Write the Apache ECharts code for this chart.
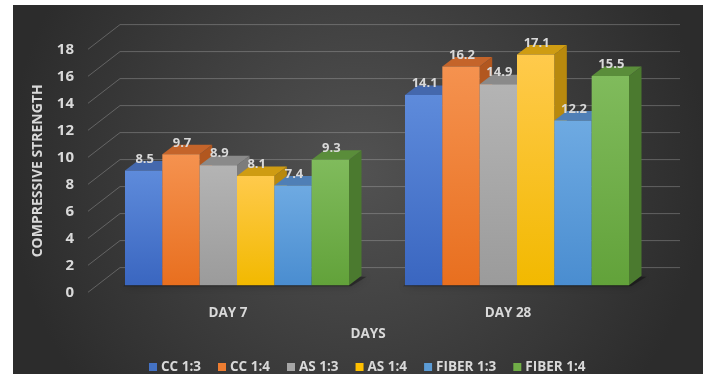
<!DOCTYPE html>
<html>
<head>
<meta charset="utf-8">
<script src="https://cdn.jsdelivr.net/npm/echarts@6/dist/echarts.min.js"></script>
<style>
  html, body { margin: 0; padding: 0; background: #ffffff; }
  #chart { width: 710px; height: 374px; }
</style>
</head>
<body>
<div id="chart"></div>
<script>
// Compressive strength by mix and curing age
const categories = ['DAY 7', 'DAY 28'];
const seriesNames = ['CC 1:3', 'CC 1:4', 'AS 1:3', 'AS 1:4', 'FIBER 1:3', 'FIBER 1:4'];
const cc13 = [8.5, 14.1];
const cc14 = [9.7, 16.2];
const as13 = [8.9, 14.9];
const as14 = [8.1, 17.1];
const fiber13 = [7.4, 12.2];
const fiber14 = [9.3, 15.5];
const yTicks = [0, 2, 4, 6, 8, 10, 12, 14, 16, 18];

const seriesValues = [cc13, cc14, as13, as14, fiber13, fiber14];

// face colours: front gradient (top, bottom), top face, right side face
const palette = [
  { hi: '#5e8bdb', lo: '#3a66c0', top: '#4468ad', side: '#33569b', legend: '#4472c4' },
  { hi: '#f5924f', lo: '#e86f1f', top: '#c4642a', side: '#b2571f', legend: '#ed7d31' },
  { hi: '#b4b4b4', lo: '#9b9b9b', top: '#8a8a8a', side: '#7c7c7c', legend: '#a5a5a5' },
  { hi: '#ffca4c', lo: '#f2b900', top: '#cf9c12', side: '#b8890e', legend: '#ffc000' },
  { hi: '#6eaae2', lo: '#4a8dd0', top: '#4f7fb6', side: '#42709f', legend: '#5b9bd5' },
  { hi: '#80bb5c', lo: '#62a23a', top: '#5a8d3a', side: '#4b7a2f', legend: '#70ad47' }
];

const TEXT = '#d9d9d9';
const FONT = '"Open Sans", sans-serif';
const CAT_GAP = 0.2;          // space between category groups
const WALL = [32, 24.7];      // back wall offset from the front axis plane
const FRONT = [9, 7];         // bar front faces sit a little into the depth
const DEPTH = [12.5, 9.5];    // bar depth (right / up)

function groupGeometry(api, cat) {
  const band = api.size([1, 0])[0];
  const groupW = band * (1 - CAT_GAP);
  const base = api.coord([cat, 0]);
  return { groupW, barW: groupW / seriesNames.length, base };
}

function barRenderer(idx) {
  const pal = palette[idx];
  return function (params, api) {
    const cat = api.value(0);
    const val = api.value(1);
    const g = groupGeometry(api, cat);
    const topPt = api.coord([cat, val]);
    const xL = g.base[0] - g.groupW / 2 + idx * g.barW + FRONT[0];
    const xR = xL + g.barW;
    const yB = g.base[1] - FRONT[1];
    const yT = topPt[1] - FRONT[1];
    const dx = DEPTH[0], dy = DEPTH[1];
    return {
      type: 'group',
      children: [
        {
          type: 'polygon',
          shape: { points: [[xR, yT], [xR + dx, yT - dy], [xR + dx, yB - dy], [xR, yB]] },
          style: { fill: pal.side }
        },
        {
          type: 'polygon',
          shape: { points: [[xL, yT], [xR, yT], [xR + dx, yT - dy], [xL + dx, yT - dy]] },
          style: { fill: pal.top }
        },
        {
          type: 'rect',
          shape: { x: xL, y: yT, width: g.barW, height: yB - yT },
          style: {
            fill: new echarts.graphic.LinearGradient(0, 0, 0, 1, [
              { offset: 0, color: pal.hi },
              { offset: 1, color: pal.lo }
            ])
          }
        },
        {
          type: 'text',
          style: {
            text: val.toFixed(1),
            x: (xL + xR) / 2 + 1,
            y: yT - 11.5,
            align: 'center',
            verticalAlign: 'middle',
            fill: TEXT,
            fontFamily: FONT,
            fontWeight: 'bold',
            fontSize: 13
          }
        }
      ]
    };
  };
}

const barSeries = seriesNames.map((name, i) => ({
  name: name,
  type: 'custom',
  coordinateSystem: 'cartesian2d',
  itemStyle: { color: palette[i].legend },
  encode: { x: 0, y: 1 },
  data: seriesValues[i].map((v, c) => [c, v]),
  renderItem: barRenderer(i),
  z: 5 + i
}));

// back wall grid lines with the diagonal leaders to the value axis
const wallSeries = {
  type: 'custom',
  silent: true,
  encode: { x: 0, y: 1 },
  data: yTicks.map(v => [0, v]),
  renderItem: function (params, api) {
    const cs = params.coordSys;
    const y = api.coord([0, api.value(1)])[1];
    const x0 = cs.x, x1 = cs.x + cs.width;
    return {
      type: 'polyline',
      shape: { points: [[x0, y], [x0 + WALL[0], y - WALL[1]], [x1 + WALL[0], y - WALL[1]]] },
      style: { stroke: 'rgba(200,200,200,0.32)', lineWidth: 1, fill: null }
    };
  },
  z: 1
};

// soft floor shadow under each group
const shadowSeries = {
  type: 'custom',
  silent: true,
  encode: { x: 0, y: 1 },
  data: categories.map((c, i) => [i, 0]),
  renderItem: function (params, api) {
    const g = groupGeometry(api, api.value(0));
    const xL = g.base[0] - g.groupW / 2 + FRONT[0] - 2;
    const xR = g.base[0] + g.groupW / 2 + FRONT[0] + 2;
    const yB = g.base[1] - FRONT[1] + 1;
    const dx = DEPTH[0] + 3, dy = DEPTH[1];
    return {
      type: 'polygon',
      shape: { points: [[xL, yB], [xR, yB], [xR + dx, yB - dy], [xL + dx, yB - dy]] },
      style: { fill: 'rgba(0,0,0,0.35)', shadowBlur: 8, shadowColor: 'rgba(0,0,0,0.7)' }
    };
  },
  z: 2
};

const chart = echarts.init(document.getElementById('chart'), null, { renderer: 'canvas' });

const labelFont = { color: TEXT, fontWeight: 'bold', fontSize: 13.5, fontFamily: FONT };

chart.setOption({
  backgroundColor: '#ffffff',
  animation: false,
  graphic: {
    elements: [{
      type: 'rect',
      z: -100,
      silent: true,
      shape: { x: 13, y: 5, width: 690, height: 369 },
      style: {
        fill: new echarts.graphic.RadialGradient(0.5, 0.45, 0.95, [
          { offset: 0, color: '#525252' },
          { offset: 1, color: '#2c2c2c' }
        ])
      }
    }]
  },
  grid: { left: 88, right: 62, top: 49.3, bottom: 81.7 },
  legend: {
    data: seriesNames,
    top: 360,
    left: 149,
    padding: 0,
    icon: 'rect',
    itemWidth: 8,
    itemHeight: 8,
    itemGap: 17,
    textStyle: Object.assign({}, labelFont, { fontSize: 13.5, padding: [0, 0, 0, -1] })
  },
  xAxis: {
    type: 'category',
    data: categories,
    axisLine: { show: false },
    axisTick: { show: false },
    splitLine: { show: false },
    axisLabel: Object.assign({ margin: 14 }, labelFont),
    name: 'DAYS',
    nameLocation: 'middle',
    nameGap: 35,
    nameTextStyle: labelFont
  },
  yAxis: {
    type: 'value',
    min: 0,
    max: 18,
    interval: 2,
    axisLine: { show: false },
    axisTick: { show: false },
    splitLine: { show: false },
    axisLabel: Object.assign({ margin: 14 }, labelFont, { fontSize: 15 }),
    name: 'COMPRESSIVE STRENGTH',
    nameLocation: 'middle',
    nameGap: 43,
    nameTextStyle: Object.assign({}, labelFont, { fontSize: 14 })
  },
  series: [wallSeries, shadowSeries].concat(barSeries)
});
</script>
</body>
</html>
